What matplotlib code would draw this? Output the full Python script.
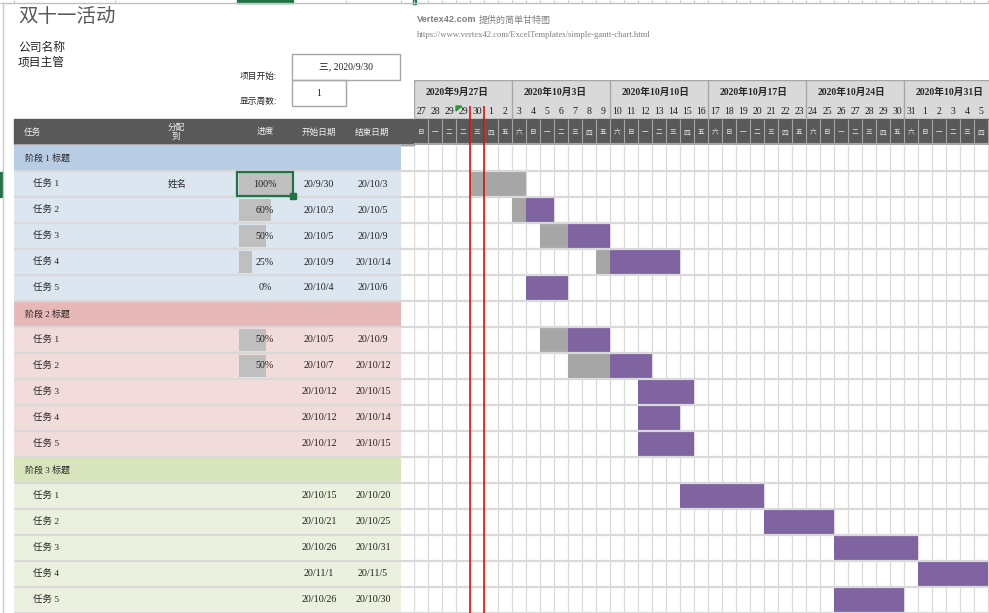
import datetime as dt
import matplotlib
matplotlib.use('Agg')
import matplotlib.pyplot as plt
from matplotlib.patches import Rectangle, Polygon

plt.rcParams['font.family'] = ['Liberation Serif', 'Noto Sans CJK SC', 'DejaVu Sans']
CJK = ['Noto Sans CJK SC', 'DejaVu Sans']

W, H = 989, 613

# ---- data ----
title = "双十一活动"
company = "公司名称"
manager = "项目主管"
project_start = "三, 2020/9/30"
weeks_shown = "1"
today = "20/9/30"

phases = ["阶段 1 标题", "阶段 2 标题", "阶段 3 标题"]
tasks = ["任务 1", "任务 2", "任务 3", "任务 4", "任务 5"]
assignee = [["姓名", "", "", "", ""],
            ["", "", "", "", ""],
            ["", "", "", "", ""]]
progress = [[100, 60, 50, 25, 0],
            [50, 50, None, None, None],
            [None, None, None, None, None]]
starts = [["20/9/30", "20/10/3", "20/10/5", "20/10/9", "20/10/4"],
          ["20/10/5", "20/10/7", "20/10/12", "20/10/12", "20/10/12"],
          ["20/10/15", "20/10/21", "20/10/26", "20/11/1", "20/10/26"]]
ends = [["20/10/3", "20/10/5", "20/10/9", "20/10/14", "20/10/6"],
        ["20/10/9", "20/10/12", "20/10/15", "20/10/14", "20/10/15"],
        ["20/10/20", "20/10/25", "20/10/31", "20/11/5", "20/10/30"]]

week_labels = ["2020年9月27日", "2020年10月3日", "2020年10月10日",
               "2020年10月17日", "2020年10月24日", "2020年10月31日"]
day_nums = [27, 28, 29, 29, 30, 1, 2,
            3, 4, 5, 6, 7, 8, 9,
            10, 11, 12, 13, 14, 15, 16,
            17, 18, 19, 20, 21, 22, 23,
            24, 25, 26, 27, 28, 29, 30,
            31, 1, 2, 3, 4, 5]
weekdays = ["日", "一", "二", "二", "三", "四", "五",
            "六", "日", "一", "二", "三", "四", "五",
            "六", "日", "一", "二", "三", "四", "五",
            "六", "日", "一", "二", "三", "四", "五",
            "六", "日", "一", "二", "三", "四", "五",
            "六", "日", "一", "二", "三", "四"]

header_cols = ["任务", "分配\n到", "进度", "开始日期", "结束日期"]

phase_colors = ['#B8CCE4', '#E6B8B7', '#D8E4BC']
task_colors = ['#DCE6F1', '#F2DCDB', '#EBF1DE']
c_done = '#A6A6A6'
c_todo = '#8064A2'
c_grid = '#D9D9D9'
c_dark = '#595959'
c_txt = '#1F1F1F'

# ---- date -> column mapping ----
col_dates = []
month = 9
prev = 0
for n in day_nums:
    if n < prev:
        month += 1
    col_dates.append(dt.date(2020, month, n))
    prev = n


def parse(s):
    y, m, d = s.split('/')
    return dt.date(2000 + int(y), int(m), int(d))


def col_of(s):
    d = parse(s)
    return max(i for i, c in enumerate(col_dates) if c == d)


def box(x0, y0, x1, y1):
    return [x0 / W, 1 - y1 / H, (x1 - x0) / W, (y1 - y0) / H]


fig = plt.figure(figsize=(W / 100, H / 100), dpi=100, facecolor='white')

# background / layout axes in pixel units
bg = fig.add_axes([0, 0, 1, 1])
bg.set_xlim(0, W)
bg.set_ylim(H, 0)
bg.axis('off')

# excel chrome bits
bg.hlines(2.5, 0, W, colors='#C0C0C0', lw=1)
ticks = [14, 115, 346, 401] + [414 + 14 * k for k in range(42)]
bg.vlines(ticks, 0, 2.5, colors='#C8C8C8', lw=0.8)
bg.add_patch(Rectangle((237, 0), 56, 2.5, color='#217346'))
bg.add_patch(Rectangle((413, 0), 2.5, 3.5, color='#217346'))
bg.vlines(2.5, 3, H, colors='#C8C8C8', lw=1)
bg.add_patch(Rectangle((0, 172), 2, 25, color='#217346'))

bg.text(18, 17, title, fontsize=14, color='#595959', va='center', family=CJK)
bg.text(18, 47, company, fontsize=8.5, color='#262626', va='center', family=CJK)
bg.text(18, 62, manager, fontsize=8.5, color='#262626', va='center', family=CJK)
bg.text(417, 20, "Vertex42.com", fontsize=6.6, color='#7F7F7F', va='center',
        weight='bold', family=['Liberation Sans', 'DejaVu Sans'])
bg.text(479, 20, "提供的简单甘特图", fontsize=6.5, color='#7F7F7F', va='center', family=CJK)
bg.text(417, 35, "https://www.vertex42.com/ExcelTemplates/simple-gantt-chart.html",
        fontsize=6.2, color='#7F7F7F', va='center')

bg.text(277, 76, "项目开始:", fontsize=6.3, ha='right', va='center', family=CJK, color='#262626')
bg.text(277, 101, "显示周数:", fontsize=6.3, ha='right', va='center', family=CJK, color='#262626')
bg.add_patch(Rectangle((292, 54), 108, 26, fill=False, ec='#A6A6A6', lw=1))
bg.add_patch(Rectangle((292, 80), 54, 26, fill=False, ec='#A6A6A6', lw=1))
bg.text(346, 67, project_start, fontsize=7, ha='center', va='center', color=c_txt)
bg.text(319, 93, weeks_shown, fontsize=7, ha='center', va='center', color=c_txt)

# left header band
bg.add_patch(Rectangle((14, 119), 400, 26, color=c_dark))
bg.hlines(144.5, 14, 414, colors='#A6A6A6', lw=1.5)
hdr_x = [24, 176, 265, 319, 372]
hdr_ha = ['left', 'center', 'center', 'center', 'center']
for x, ha, lab in zip(hdr_x, hdr_ha, header_cols):
    bg.text(x, 132, lab, fontsize=6.2, color='#F2F2F2', ha=ha, va='center',
            family=CJK, linespacing=1.1)

# ---- task table ----
nrows = len(phases) * (len(tasks) + 1)
tb = fig.add_axes(box(0, 145, 414, 613))
tb.set_xlim(0, 414)
tb.set_ylim(nrows, 0)
tb.axis('off')

row = 0
for p, ph in enumerate(phases):
    tb.barh(row, 387, left=14, height=1, align='edge', color=phase_colors[p], zorder=1)
    tb.text(25, row + 0.5, ph, fontsize=6.5, va='center', color='#262626')
    row += 1
    for t, tk in enumerate(tasks):
        tb.barh(row, 387, left=14, height=1, align='edge', color=task_colors[p], zorder=1)
        tb.text(33, row + 0.5, tk, fontsize=6.8, va='center', color='#262626')
        if assignee[p][t]:
            tb.text(177, row + 0.5, assignee[p][t], fontsize=6.8, ha='center',
                    va='center', family=CJK, color='#262626')
        pr = progress[p][t]
        if pr is not None:
            if pr > 0:
                tb.barh(row + 0.5, 53 * pr / 100, left=239, height=0.88,
                        color='#BFBFBF', zorder=2)
            tb.text(265, row + 0.5, f"{pr}%", fontsize=7.2, ha='center', va='center',
                    color=c_txt, zorder=3)
        tb.text(319, row + 0.5, starts[p][t], fontsize=7.2, ha='center', va='center',
                color=c_txt)
        tb.text(373, row + 0.5, ends[p][t], fontsize=7.2, ha='center', va='center',
                color=c_txt)
        row += 1

tb.hlines(range(1, nrows + 1), 14, 414, colors=c_grid, lw=1.6, zorder=4)
# selected cell
tb.add_patch(Rectangle((237, 1.03), 56, 0.94, fill=False, ec='#217346', lw=1.6, zorder=5))
tb.add_patch(Rectangle((290, 1.83), 6, 0.24, color='#217346', zorder=6, clip_on=False))

# ---- gantt area ----
ncols = (W - 414) / 14
ax = fig.add_axes(box(414, 145, W, 613))
ax.set_xlim(0, ncols)
ax.set_ylim(nrows, 0)
ax.axis('off')

ax.vlines(range(0, len(day_nums) + 1), 0, nrows, colors=c_grid, lw=0.9, zorder=1)
row = 0
for p in range(len(phases)):
    row += 1
    for t in range(len(tasks)):
        c0 = col_of(starts[p][t])
        c1 = col_of(ends[p][t]) + 1
        dur = c1 - c0
        pr = progress[p][t] or 0
        done = int(dur * pr / 100)
        if done > 0:
            ax.barh(row + 0.5, done, left=c0, height=1, color=c_done, zorder=2)
        if dur - done > 0:
            ax.barh(row + 0.5, dur - done, left=c0 + done, height=1, color=c_todo, zorder=2)
        row += 1
ax.hlines(range(1, nrows + 1), 0, ncols, colors=c_grid, lw=1.6, zorder=3)
tcol = col_of(today)
ax.vlines([tcol, tcol + 1], 0, nrows, colors='#E00000', lw=1.1, zorder=4)

# ---- timeline header ----
hx = fig.add_axes(box(414, 80, W, 145))
hx.set_xlim(0, ncols)
hx.set_ylim(145, 80)
hx.axis('off')
hx.axhspan(80, 119, color='#D9D9D9', zorder=0)
hx.axhspan(119, 145, color=c_dark, zorder=0)
week_cols = [7 * k for k in range(len(week_labels))]
hx.vlines(week_cols, 80, 119, colors='#A6A6A6', lw=1, zorder=1)
hx.hlines(80.5, 0, ncols, colors='#A6A6A6', lw=1, zorder=1)
hx.vlines(range(1, len(day_nums) + 1), 119, 145, colors='#A6A6A6', lw=0.8, zorder=1)
hx.hlines(144.5, 0, ncols, colors='#A6A6A6', lw=1.5, zorder=1)
for wc, lab in zip(week_cols, week_labels):
    hx.text(wc + 0.8, 92, lab, fontsize=7, weight='bold', va='center', color='#262626')
for i, (n, wd) in enumerate(zip(day_nums, weekdays)):
    hx.text(i + 0.5, 112, str(n), fontsize=7, ha='center', va='center', color=c_txt)
    hx.text(i + 0.5, 132, wd, fontsize=4.8, ha='center', va='center', color='#E6E6E6',
            family=CJK)
hx.vlines([tcol, tcol + 1], 106, 145, colors='#E00000', lw=1.1, zorder=3)
hx.add_patch(Polygon([(3, 106), (3.4, 106), (3, 111)], closed=True, color='#1E9E3A', zorder=3))

fig.savefig('out.png', dpi=100, facecolor='white')
